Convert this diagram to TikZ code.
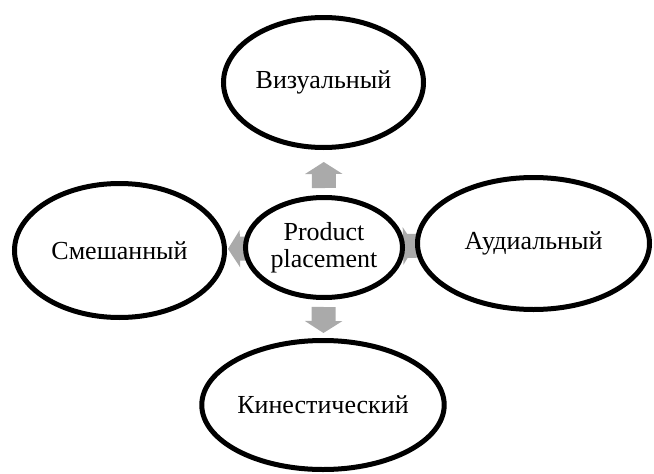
\documentclass[tikz,border=0pt]{standalone}
\usepackage{fontspec}
\setmainfont{Liberation Serif}
\usetikzlibrary{shapes.geometric,arrows.meta,backgrounds}
\definecolor{arrowgray}{RGB}{170,170,170}

\begin{document}
\begin{tikzpicture}[
			x=1pt,
			y=-1pt,
			bubble/.style={
				ellipse,
				draw,
				line width=5pt,
				fill=white,
				inner sep=0,
				align=center,
				font=\fontsize{26}{27}\selectfont
			},
			blockarrow/.style={
				draw=arrowgray,
				line width=24pt,
				-{Triangle[width=37pt,length=12pt]}
			}
		]

		\useasboundingbox (0,0) rectangle (654,474);

		\node [bubble, minimum width=157pt, minimum height=100pt] (PP) at (324,247.5) {Product\\placement};
		\node [bubble, minimum width=200pt, minimum height=130pt] (VIS) at (323.5,82.5) {Визуальный};
		\node [bubble, minimum width=210pt, minimum height=134pt] (SM) at (119.5,250.5) {Смешанный};
		\node [bubble, minimum width=232pt, minimum height=132pt] (AUD) at (533.5,243.5) {Аудиальный};
		\node [bubble, minimum width=239pt, minimum height=129pt] (KIN) at (323,405) {Кинестический};

		\begin{scope}[on background layer]
			\draw [blockarrow, shorten <=7pt, shorten >=12pt] (PP) -- (VIS);
			\draw [blockarrow, shorten <=7pt, shorten >=5pt] (PP) -- (KIN);
			\draw [blockarrow, shorten <=-11pt, shorten >=1pt] (PP) -- (SM);
			\draw [blockarrow, shorten <=-13pt, shorten >=0pt] (PP) -- (AUD);
		\end{scope}

	\end{tikzpicture}
\end{document}
